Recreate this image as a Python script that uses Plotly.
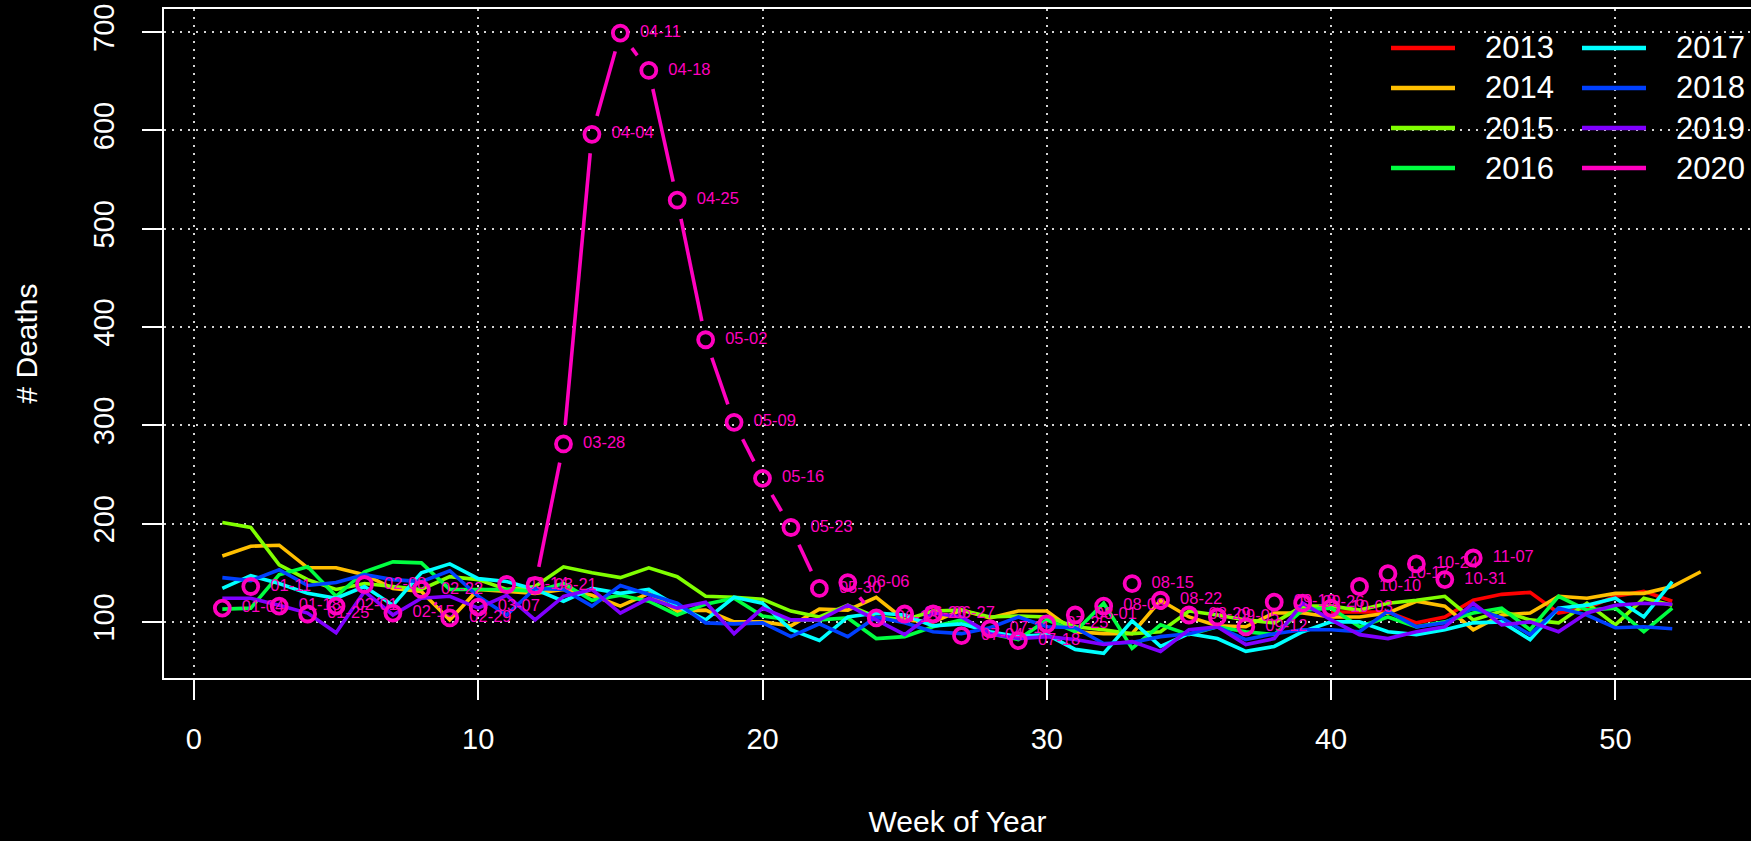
import math
import plotly.graph_objects as go

# ---------------- data ----------------
years = ["2013", "2014", "2015", "2016", "2017", "2018", "2019", "2020"]
colors = ["#FF0000", "#FFBF00", "#80FF00", "#00FF40", "#00FFFF", "#0040FF", "#8000FF", "#FF00BF"]

weeks_2013 = list(range(40, 53))
deaths_2013 = [110, 110, 110, 99, 105, 122, 128, 130, 109, 114, 126, 131, 121]

weeks_2014 = list(range(1, 54))
deaths_2014 = [167, 177, 178, 155, 155, 148, 134, 131, 102, 133, 131, 129, 133,
               127, 116, 129, 111, 112, 100, 100, 96, 113, 112, 125, 102, 100,
               112, 104, 111, 111, 90, 88, 88, 122, 105, 96, 95, 109, 109,
               105, 105, 109, 121, 116, 92, 107, 109, 126, 124, 129, 129, 136, 151]

weeks_std = list(range(1, 53))
deaths_2015 = [201, 196, 158, 143, 133, 139, 136, 133, 146, 143, 133, 136, 156,
               150, 145, 155, 146, 126, 125, 123, 111, 105, 117, 105, 102, 111,
               112, 105, 106, 105, 95, 92, 88, 90, 111, 107, 102, 99, 116,
               116, 112, 119, 122, 126, 102, 111, 102, 99, 119, 97, 124, 117]
deaths_2016 = [113, 114, 148, 156, 126, 151, 161, 160, 133, 133, 133, 131, 139,
               122, 127, 121, 107, 118, 124, 106, 102, 102, 104, 83, 85, 95,
               102, 88, 82, 102, 90, 119, 73, 97, 87, 95, 90, 87, 112,
               114, 95, 105, 95, 100, 109, 114, 92, 126, 112, 114, 90, 114]
deaths_2017 = [134, 147, 139, 129, 124, 136, 117, 150, 159, 144, 141, 133, 121,
               134, 129, 133, 116, 102, 125, 119, 92, 81, 105, 109, 107, 96,
               98, 90, 85, 87, 72, 68, 101, 75, 88, 83, 70, 75, 90,
               100, 100, 90, 87, 92, 99, 100, 82, 114, 117, 124, 105, 141]
deaths_2018 = [145, 142, 153, 137, 140, 148, 143, 141, 152, 126, 107, 134, 133,
               116, 137, 128, 119, 99, 98, 99, 85, 98, 85, 105, 99, 90,
               88, 94, 105, 95, 94, 78, 79, 85, 88, 95, 82, 88, 92,
               92, 90, 111, 95, 99, 114, 104, 87, 114, 107, 94, 95, 93]
deaths_2019 = [124, 124, 117, 109, 89, 131, 107, 124, 126, 114, 127, 102, 126,
               133, 109, 124, 114, 120, 88, 114, 102, 102, 117, 102, 87, 109,
               105, 88, 83, 85, 82, 77, 80, 70, 92, 95, 77, 83, 119,
               102, 87, 83, 90, 95, 119, 97, 100, 90, 109, 117, 119, 118]

weeks_2020 = list(range(1, 46))
deaths_2020 = [114, 136, 116, 108, 116, 138, 109, 133, 104, 115,
               138, 137, 281, 596, 699, 661, 529, 387, 303, 246,
               196, 134, 140, 104, 108, 108, 86, 93, 81, 98,
               107, 116, 139, 122, 107, 105, 95, 120, 119, 114,
               136, 149, 159, 143, 165]
dates_2020 = ["01-04", "01-11", "01-18", "01-25", "02-01", "02-08", "02-15", "02-22", "02-29",
              "03-07", "03-14", "03-21", "03-28", "04-04", "04-11", "04-18", "04-25",
              "05-02", "05-09", "05-16", "05-23", "05-30", "06-06", "06-13", "06-20",
              "06-27", "07-04", "07-11", "07-18", "07-25", "08-01", "08-08", "08-15",
              "08-22", "08-29", "09-05", "09-12", "09-19", "09-26", "10-03", "10-10",
              "10-17", "10-24", "10-31", "11-07"]

x_ticks = [0, 10, 20, 30, 40, 50]
y_ticks = [100, 200, 300, 400, 500, 600, 700]

# ---------------- layout constants ----------------
W, H = 1751, 841
M_L, M_R, M_T, M_B = 164, 0, 9, 163
PLOT_W = W - M_L - M_R
PLOT_H = H - M_T - M_B
X_RANGE = [-1.052, 54.77]
Y_RANGE = [42.9, 723.5]
FONT = "Liberation Sans, Arial, Helvetica, sans-serif"
MAG = colors[7]

fig = go.Figure()

series = [
    (weeks_2013, deaths_2013),
    (weeks_2014, deaths_2014),
    (weeks_std, deaths_2015),
    (weeks_std, deaths_2016),
    (weeks_std, deaths_2017),
    (weeks_std, deaths_2018),
    (weeks_std, deaths_2019),
]
for (wx, dy), name, col in zip(series, years[:7], colors[:7]):
    fig.add_trace(go.Scatter(x=wx, y=dy, mode="lines", name=name,
                             line=dict(color=col, width=3.6),
                             showlegend=False, hoverinfo="x+y+name"))

# 2020: R type="b" style - segments with gaps around the points
SX = PLOT_W / (X_RANGE[1] - X_RANGE[0])
SY = PLOT_H / (Y_RANGE[1] - Y_RANGE[0])
GAP = 19
seg_x, seg_y = [], []
for i in range(len(weeks_2020) - 1):
    x1, y1 = weeks_2020[i], deaths_2020[i]
    x2, y2 = weeks_2020[i + 1], deaths_2020[i + 1]
    L = math.hypot((x2 - x1) * SX, (y2 - y1) * SY)
    if L > 2 * GAP:
        f = GAP / L
        seg_x += [x1 + f * (x2 - x1), x2 - f * (x2 - x1), None]
        seg_y += [y1 + f * (y2 - y1), y2 - f * (y2 - y1), None]
fig.add_trace(go.Scatter(x=seg_x, y=seg_y, mode="lines", name="2020",
                         line=dict(color=MAG, width=3.6), showlegend=False,
                         hoverinfo="skip"))
fig.add_trace(go.Scatter(x=weeks_2020, y=deaths_2020, mode="markers+text", name="2020",
                         text=dates_2020, texttemplate="\u00a0\u00a0%{text}",
                         textposition="middle right",
                         textfont=dict(color=MAG, size=16.5, family=FONT),
                         marker=dict(size=15, color="rgba(0,0,0,0)", symbol="circle",
                                     line=dict(color=MAG, width=3.8)),
                         showlegend=False))

# ---------------- legend (two columns, like R legend(ncol=2)) ----------------
def px_x(p):
    return (p - M_L) / PLOT_W

def px_y(p):
    return 1 - (p - M_T) / PLOT_H

shapes = []
annotations = []
rows_y = [48, 88, 128, 168]
cols = [(1391, 1455, 1483), (1582, 1646, 1674)]
for i, (name, col) in enumerate(zip(years, colors)):
    c = cols[i // 4]
    r = rows_y[i % 4]
    shapes.append(dict(type="line", xref="paper", yref="paper",
                       x0=px_x(c[0]), x1=px_x(c[1]), y0=px_y(r), y1=px_y(r),
                       line=dict(color=col, width=4.5)))
    annotations.append(dict(xref="paper", yref="paper", x=px_x(c[2]), y=px_y(r),
                            xanchor="left", yanchor="middle", text=name, showarrow=False,
                            font=dict(color="white", size=31, family=FONT)))

axis_common = dict(
    showline=True, linecolor="white", linewidth=2,
    ticks="outside", ticklen=20, tickwidth=2, tickcolor="white",
    showgrid=True, gridcolor="#D3D3D3", gridwidth=1.6, griddash="2px,6px",
    zeroline=False,
    tickfont=dict(color="white", size=29, family=FONT),
)

fig.update_layout(
    width=W, height=H,
    margin=dict(l=M_L, r=M_R, t=M_T, b=M_B, autoexpand=False),
    paper_bgcolor="black", plot_bgcolor="black",
    font=dict(family=FONT, color="white"),
    showlegend=False,
    shapes=shapes, annotations=annotations,
    xaxis=dict(range=X_RANGE, tickvals=x_ticks, mirror=True,
               ticklabelstandoff=14,
               title=dict(text="Week of Year", font=dict(size=30, color="white", family=FONT),
                          standoff=57),
               **axis_common),
    yaxis=dict(range=Y_RANGE, tickvals=y_ticks, tickangle=-90,
               ticklabelstandoff=16,
               title=dict(text="# Deaths", font=dict(size=30, color="white", family=FONT),
                          standoff=42),
               **axis_common),
)

fig.write_html("out.html", config={"displayModeBar": False},
               post_script="document.body.style.margin='0';")
